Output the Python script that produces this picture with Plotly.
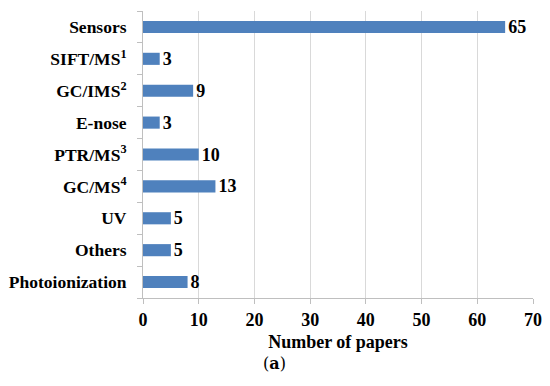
import plotly.graph_objects as go

categories = ["Sensors", "SIFT/MS<sup>1</sup>", "GC/IMS<sup>2</sup>", "E-nose", "PTR/MS<sup>3</sup>",
              "GC/MS<sup>4</sup>", "UV", "Others", "Photoionization"]
values = [65, 3, 9, 3, 10, 13, 5, 5, 8]
x_ticks = [0, 10, 20, 30, 40, 50, 60, 70]

serif = "Liberation Serif, Times New Roman, serif"

fig = go.Figure(go.Bar(
    x=values, y=categories, orientation="h",
    marker=dict(color="#4F81BD", line=dict(width=0)),
    text=[f"<b>{v}</b>" for v in values], textposition="outside",
    constraintext="none",
    textfont=dict(family=serif, size=18, color="black"),
    cliponaxis=False,
))

# the page body has an 8px margin, so the figure is sized to fit the window
fig.update_layout(
    width=542, height=378,
    margin=dict(l=135, r=17, t=3, b=88),
    paper_bgcolor="white", plot_bgcolor="white",
    bargap=0.62, showlegend=False,
    font=dict(family=serif, size=18, color="black"),
    xaxis=dict(range=[0, 70], tickvals=x_ticks, ticktext=[f"<b>{t}</b>" for t in x_ticks],
               showgrid=True, gridcolor="#d9d9d9", gridwidth=1, automargin=False,
               showline=True, linecolor="#bfbfbf", ticks="outside", ticklen=5,
               tickcolor="#bfbfbf", zeroline=False,
               title=dict(text="<b>Number of papers</b>", font=dict(size=18), standoff=6)),
    yaxis=dict(autorange="reversed", showline=True, linecolor="#bfbfbf", automargin=False,
               ticks="outside", tickson="boundaries", ticklen=5, tickcolor="#bfbfbf",
               ticktext=[f"<b>{c}</b>" for c in categories], tickvals=categories,
               tickfont=dict(size=17.5), ticklabelstandoff=12),
    annotations=[dict(text="(<b>a</b>)", x=(274 - 143) / 390, y=-(364 - 298) / 287,
                      xref="paper", yref="paper", xanchor="center", yanchor="middle",
                      showarrow=False, font=dict(family="DejaVu Serif", size=16))],
)
fig.write_html("out.html")
